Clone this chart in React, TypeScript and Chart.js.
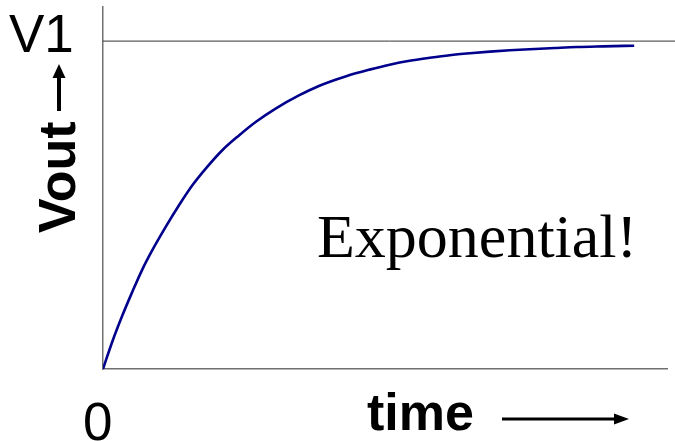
import React, { useEffect, useRef } from "react";
import { Chart, registerables } from "chart.js";

Chart.register(...registerables);

// time (arbitrary units) and Vout as a fraction of V1
const timeValues = [
  0, 0.093, 0.192, 0.292, 0.391, 0.491, 0.624, 0.756, 0.889, 1.022, 1.187, 1.353,
  1.519, 1.718, 1.95, 2.149, 2.415, 2.647, 2.846, 3.045, 3.244, 3.443, 3.642,
  3.841, 4.04, 4.289, 4.488, 4.706, 4.965, 5.274,
];
const voutValues = [
  0, 0.084, 0.163, 0.236, 0.304, 0.363, 0.434, 0.5, 0.561, 0.612, 0.668, 0.713,
  0.754, 0.795, 0.835, 0.864, 0.893, 0.913, 0.928, 0.94, 0.949, 0.957, 0.963,
  0.968, 0.972, 0.976, 0.979, 0.982, 0.984, 0.986,
];
const v1LineTimes = [0, 5.69];
const v1LineValues = [1, 1];

const yLabel = "Vout";
const xLabel = "time";
const topLabel = "V1";
const originLabel = "0";
const noteText = "Exponential!";

const textPlugin = {
  id: "annotationText",
  afterDraw(chart: any) {
    const ctx = chart.ctx as CanvasRenderingContext2D;
    ctx.save();
    ctx.fillStyle = "#000";
    ctx.strokeStyle = "#000";
    ctx.textBaseline = "alphabetic";
    ctx.textAlign = "left";

    ctx.font = "53px 'Liberation Sans', Arial, sans-serif";
    ctx.fillText(topLabel, 9, 52);
    ctx.fillText(originLabel, 83, 440);

    ctx.font = "62px 'Liberation Serif', 'Times New Roman', serif";
    ctx.fillText(noteText, 317, 257);

    ctx.font = "bold 52px 'Liberation Sans', Arial, sans-serif";
    ctx.fillText(xLabel, 367, 430);

    ctx.save();
    ctx.translate(75, 233);
    ctx.rotate(-Math.PI / 2);
    ctx.fillText(yLabel, 0, 0);
    ctx.restore();

    // x arrow
    ctx.lineWidth = 3;
    ctx.beginPath();
    ctx.moveTo(502, 419);
    ctx.lineTo(616, 419);
    ctx.stroke();
    ctx.beginPath();
    ctx.moveTo(629, 419);
    ctx.lineTo(614, 413.5);
    ctx.lineTo(614, 424.5);
    ctx.closePath();
    ctx.fill();

    // y arrow
    ctx.lineWidth = 4;
    ctx.beginPath();
    ctx.moveTo(59, 111);
    ctx.lineTo(59, 76);
    ctx.stroke();
    ctx.beginPath();
    ctx.moveTo(59, 64);
    ctx.lineTo(52.5, 78);
    ctx.lineTo(65.5, 78);
    ctx.closePath();
    ctx.fill();

    ctx.restore();
  },
};

export default function App() {
  const canvasRef = useRef<HTMLCanvasElement | null>(null);

  useEffect(() => {
    if (!canvasRef.current) return;
    const chart = new Chart(canvasRef.current, {
      type: "line",
      data: {
        datasets: [
          {
            data: v1LineTimes.map((t, i) => ({ x: t, y: v1LineValues[i] })),
            borderColor: "#333333",
            borderWidth: 1,
            pointRadius: 0,
            clip: false as any,
          },
          {
            data: timeValues.map((t, i) => ({ x: t, y: voutValues[i] })),
            borderColor: "#00008c",
            borderWidth: 2.6,
            pointRadius: 0,
            cubicInterpolationMode: "monotone",
          },
        ],
      },
      options: {
        animation: false,
        responsive: false,
        layout: { padding: { left: 103, top: 7, right: 8, bottom: 72 } },
        plugins: { legend: { display: false }, tooltip: { enabled: false } },
        scales: {
          x: {
            type: "linear",
            min: 0,
            max: 5.6,
            ticks: { display: false },
            grid: { display: false, drawTicks: false },
            border: { display: true, color: "#707070", width: 1.5 },
          },
          y: {
            type: "linear",
            min: 0,
            max: 1.104,
            ticks: { display: false },
            grid: { display: false, drawTicks: false },
            border: { display: true, color: "#707070", width: 1.5 },
          },
        },
      },
      plugins: [textPlugin],
    });
    return () => chart.destroy();
  }, []);

  return (
    <div style={{ position: "absolute", left: 0, top: 0, width: 675, height: 441, background: "#fff" }}>
      <canvas ref={canvasRef} width={675} height={441} />
    </div>
  );
}
